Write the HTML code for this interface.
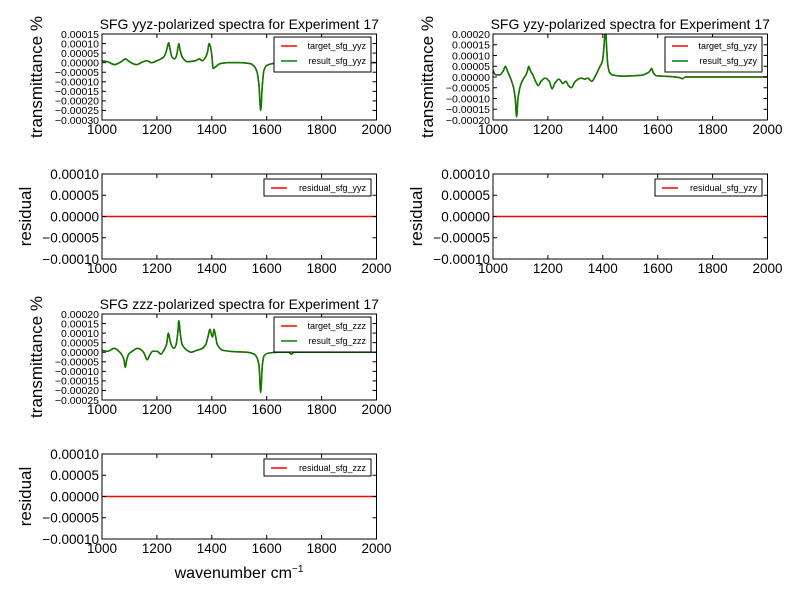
<!DOCTYPE html>
<html><head><meta charset="utf-8"><style>
body{margin:0;background:#fff;}
svg{display:block;font-family:"Liberation Sans",sans-serif;}
</style></head><body>
<svg id="fig" width="800" height="600" viewBox="0 0 800 600"></svg>
<script>
const xTicks=[1000,1200,1400,1600,1800,2000];
const yyzX=[1000,1020,1045,1070,1085,1100,1125,1150,1165,1180,1200,1215,1225,1232,1238,1243,1248,1255,1265,1272,1277,1280,1284,1292,1310,1340,1355,1365,1378,1385,1390,1394,1400,1405,1415,1430,1460,1500,1540,1555,1565,1572,1578,1584,1590,1600,1620,1660,1700,2000];
const yyzY=[0.00001,0.000005,-0.00001,0.000005,0.00002,0.000005,-0.00001,0.000005,0.00001,0,0.00001,0.00002,0.00003,0.00005,0.00008,0.000105,0.00007,0.00003,0.00002,0.00004,0.00008,0.0001,0.00007,0.00003,0.000005,0.00001,0.00002,0.00001,0.00003,0.00006,0.0001,0.00009,0.00004,-0.00003,-0.00002,-0.000005,0,0,-0.000005,-0.00002,-0.00005,-0.00012,-0.00025,-0.00012,-0.00004,-0.000015,-0.000005,0,0,0];
const yzyX=[1000,1010,1025,1038,1045,1052,1065,1075,1081,1086,1091,1100,1110,1120,1126,1130,1136,1145,1155,1165,1175,1190,1205,1215,1225,1240,1255,1265,1275,1285,1300,1320,1335,1345,1360,1375,1390,1398,1403,1407,1410,1413,1418,1425,1440,1470,1540,1565,1573,1578,1584,1595,1650,1680,1690,1700,2000];
const yzyY=[0.00003,0.00001,0.00001,0.00003,0.00005,0.00003,-0.00001,-0.00005,-0.0001,-0.000185,-0.0001,-0.00004,-0.00001,0.00001,0.00003,0.00005,0.00003,0.00001,-0.00002,-0.00004,-0.00002,-0.000005,-0.00002,-0.000055,-0.00003,-0.00001,-0.00003,-0.00002,-0.00004,-0.00005,-0.00002,-0.000005,-0.00001,-0.000005,-0.00002,0.00001,0.00005,0.00007,0.00012,0.00019,0.00024,0.00016,0.00006,0.00002,0.000008,0.000004,0.000008,0.00002,0.00003,0.00004,0.00002,0.000006,0.000002,-0.000003,-0.000008,0,0];
const zzzX=[1000,1020,1045,1065,1075,1080,1085,1090,1097,1110,1130,1145,1155,1160,1165,1172,1185,1200,1215,1225,1235,1242,1248,1255,1262,1270,1276,1280,1285,1292,1310,1325,1345,1365,1378,1386,1393,1399,1403,1408,1413,1420,1440,1480,1530,1555,1565,1572,1578,1584,1590,1605,1640,1680,1690,1700,2000];
const zzzY=[0.00001,0.000005,0.00002,0,-0.00002,-0.00004,-0.00008,-0.00004,-0.00001,0.000005,0.00002,0.00001,-0.00001,-0.00003,-0.00004,-0.00002,0.000005,0.000005,-0.00001,0.00001,0.00004,0.0001,0.00006,0.00003,0.00002,0.00004,0.0001,0.000165,0.0001,0.00004,0.00001,0,0.00001,0.00002,0.00004,0.00008,0.00012,0.00009,0.00008,0.00012,0.00009,0.00004,0.00001,0.000003,0,-0.00001,-0.00003,-0.00007,-0.00021,-0.00007,-0.00002,-0.000005,0,0,-0.00001,0,0];
const yyzTicks=[0.00015,0.0001,0.00005,0,-0.00005,-0.0001,-0.00015,-0.0002,-0.00025,-0.0003];
const yzyTicks=[0.0002,0.00015,0.0001,0.00005,0,-0.00005,-0.0001,-0.00015,-0.0002];
const zzzTicks=[0.0002,0.00015,0.0001,0.00005,0,-0.00005,-0.0001,-0.00015,-0.0002,-0.00025];
const resTicks=[0.0001,0.00005,0,-0.00005,-0.0001];
const resX=[1000,2000];
const resY=[0,0];

const svg=document.getElementById('fig');
const NS='http://www.w3.org/2000/svg';
function mk(tag,attrs,parent){const e=document.createElementNS(NS,tag);for(const k in attrs)e.setAttribute(k,attrs[k]);(parent||svg).appendChild(e);return e;}
function fmt(v){let s=Math.abs(v).toFixed(5);return (v<-1e-12?'\u2212':'')+s;}
// monotone cubic path through screen points
function monoPath(P){
  const n=P.length;if(n<3)return 'M'+P.map(p=>p[0]+','+p[1]).join(' L');
  const d=[],m=[];
  for(let i=0;i<n-1;i++)d.push((P[i+1][1]-P[i][1])/(P[i+1][0]-P[i][0]));
  m[0]=d[0];m[n-1]=d[n-2];
  for(let i=1;i<n-1;i++)m[i]=(d[i-1]*d[i]<=0)?0:2/(1/d[i-1]+1/d[i]);
  let s='M'+P[0][0]+','+P[0][1];
  for(let i=0;i<n-1;i++){const h=(P[i+1][0]-P[i][0])/3;
    s+=' C'+(P[i][0]+h)+','+(P[i][1]+m[i]*h)+' '+(P[i+1][0]-h)+','+(P[i+1][1]-m[i+1]*h)+' '+P[i+1][0]+','+P[i+1][1];}
  return s;
}
let clipId=0;
function panel(name,L,T,R,B,ymax,ymin,yt,tfs,title,series,legend,ylabel){
  const g=mk('g',{});
  
  
  const sx=v=>L+(v-1000)/1000*(R-L);
  const sy=v=>T+(ymax-v)/(ymax-ymin)*(B-T);
  const cid='c'+(clipId++);
  const cp=mk('clipPath',{id:cid},g);mk('rect',{x:L,y:T,width:R-L,height:B-T},cp);
  series.forEach(s=>{
    const p=mk('path',{d:monoPath(s.x.map((x,i)=>[sx(x),sy(s.y[i])])),fill:'none',stroke:s.c,'stroke-width':1.5,'clip-path':'url(#'+cid+')'},g);
    
    
  });
  mk('rect',{x:L,y:T,width:R-L,height:B-T,fill:'none',stroke:'#000','stroke-width':1},g);
  xTicks.forEach(t=>{const x=sx(t);mk('line',{x1:x,x2:x,y1:B,y2:B-4,stroke:'#000'},g);mk('line',{x1:x,x2:x,y1:T,y2:T+4,stroke:'#000'},g);
    const tx=mk('text',{x:x,y:B+14,'font-size':13.5,'text-anchor':'middle'},g);tx.textContent=t;
    });
  yt.forEach(t=>{const y=sy(t);mk('line',{x1:L,x2:L+4,y1:y,y2:y,stroke:'#000'},g);mk('line',{x1:R,x2:R-4,y1:y,y2:y,stroke:'#000'},g);
    const tx=mk('text',{x:L-3,y:y+tfs*0.36,'font-size':tfs,'text-anchor':'end'},g);tx.textContent=fmt(t);
    });
  if(title){const tt=mk('text',{x:(L+R)/2,y:T-5,'font-size':14,'text-anchor':'middle'},g);tt.textContent=title;
    }
  const yl=mk('text',{x:0,y:0,'font-size':ylabel.fs,'text-anchor':'middle',transform:'translate('+(ylabel.x)+','+((T+B)/2)+') rotate(-90)'},g);yl.textContent=ylabel.t;
  
  const lg=mk('g',{},g);
  
  
  mk('rect',{x:legend.x,y:legend.y,width:legend.w,height:legend.h,fill:'#fff',stroke:'#000'},lg);
  legend.items.forEach((it,i)=>{const y=legend.y+9+i*15;
    mk('line',{x1:legend.x+7,x2:legend.x+23,y1:y,y2:y,stroke:it.c,'stroke-width':1.5},lg);
    const t=mk('text',{x:legend.x+legend.w-5,y:y+3,'font-size':9,'text-anchor':'end'},lg);t.textContent=it.t;
    });
}
const R='#ff0000',G='#007f00';
panel('yyz-spectrum-panel',102,34,376.5,120,0.00015,-0.0003,yyzTicks,10.5,'SFG yyz-polarized spectra for Experiment 17',
 [{x:yyzX,y:yyzY,c:R,n:'target-sfg-yyz-line'},{x:yyzX,y:yyzY,c:G,n:'result-sfg-yyz-line'}],
 {x:274,y:37,w:97,h:35,items:[{c:R,t:'target_sfg_yyz'},{c:G,t:'result_sfg_yyz'}]},{x:42,t:'transmittance %',fs:17});
panel('yzy-spectrum-panel',493,34,767.5,120,0.0002,-0.0002,yzyTicks,10.5,'SFG yzy-polarized spectra for Experiment 17',
 [{x:yzyX,y:yzyY,c:R,n:'target-sfg-yzy-line'},{x:yzyX,y:yzyY,c:G,n:'result-sfg-yzy-line'}],
 {x:665,y:37,w:97,h:35,items:[{c:R,t:'target_sfg_yzy'},{c:G,t:'result_sfg_yzy'}]},{x:433,t:'transmittance %',fs:17});
panel('zzz-spectrum-panel',102,314,376.5,400,0.0002,-0.00025,zzzTicks,10.5,'SFG zzz-polarized spectra for Experiment 17',
 [{x:zzzX,y:zzzY,c:R,n:'target-sfg-zzz-line'},{x:zzzX,y:zzzY,c:G,n:'result-sfg-zzz-line'}],
 {x:274,y:317,w:97,h:35,items:[{c:R,t:'target_sfg_zzz'},{c:G,t:'result_sfg_zzz'}]},{x:42,t:'transmittance %',fs:17});
panel('yyz-residual-panel',102,174,376.5,259,0.0001,-0.0001,resTicks,13.5,null,
 [{x:resX,y:resY,c:R,n:'residual-sfg-yyz-line'}],
 {x:264,y:179,w:107,h:17,items:[{c:R,t:'residual_sfg_yyz'}]},{x:31,t:'residual',fs:17});
panel('yzy-residual-panel',493,174,767.5,259,0.0001,-0.0001,resTicks,13.5,null,
 [{x:resX,y:resY,c:R,n:'residual-sfg-yzy-line'}],
 {x:655,y:179,w:107,h:17,items:[{c:R,t:'residual_sfg_yzy'}]},{x:422,t:'residual',fs:17});
panel('zzz-residual-panel',102,454,376.5,539,0.0001,-0.0001,resTicks,13.5,null,
 [{x:resX,y:resY,c:R,n:'residual-sfg-zzz-line'}],
 {x:264,y:459,w:107,h:17,items:[{c:R,t:'residual_sfg_zzz'}]},{x:31,t:'residual',fs:17});
const xl=mk('text',{x:239,y:578,'font-size':16,'text-anchor':'middle'});


xl.innerHTML='wavenumber cm<tspan dy="-6" font-size="10">\u22121</tspan>';
</script>
</body></html>
